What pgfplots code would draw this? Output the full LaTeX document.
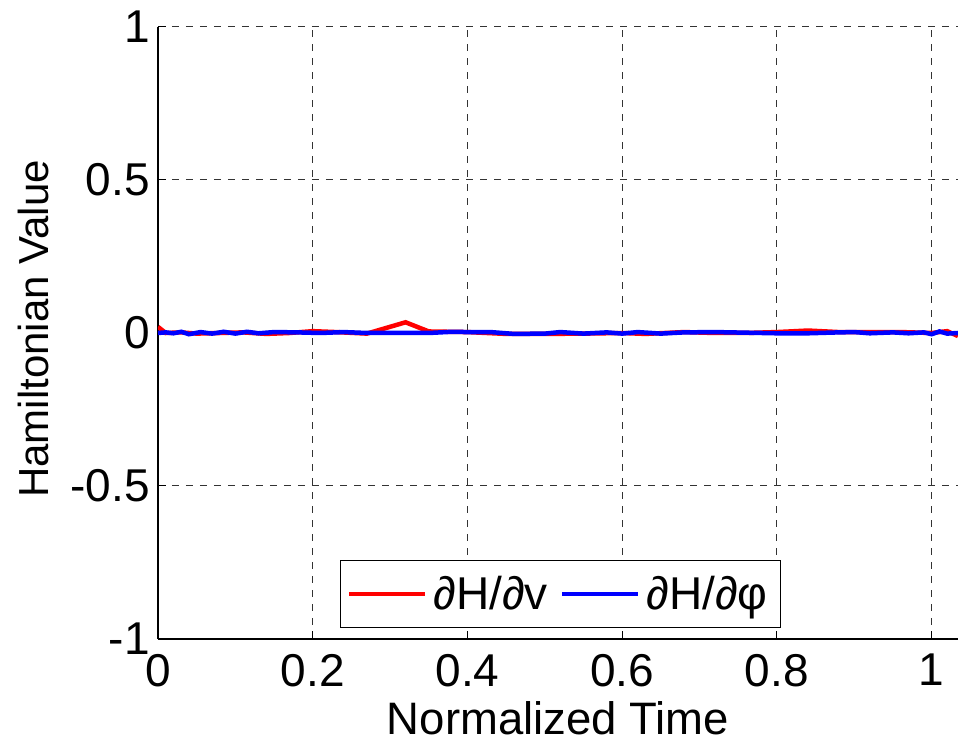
\documentclass[border=0pt]{standalone}
\usepackage{fontspec}
\setmainfont{Liberation Sans}
\usepackage{pgfplots}
\pgfplotsset{compat=1.18}
\newcommand{\bigf}{\fontsize{46}{50}\selectfont}
\begin{document}
\begin{tikzpicture}
\begin{axis}[
  scale only axis,
  width=800pt, height=612pt,
  xmin=0, xmax=1.034, ymin=-1, ymax=1,
  axis x line*=bottom, axis y line*=left,
  axis line style={line width=1.3pt, black},
  xtick={0,0.2,0.4,0.6,0.8,1}, xticklabels={0,0.2,0.4,0.6,0.8,1},
  ytick={-1,-0.5,0,0.5,1}, yticklabels={-1,-0.5,0,0.5,1},
  tick align=inside, major tick length=8pt,
  tick style={line width=1pt, black},
  grid=major,
  major grid style={line width=1pt, black!80, dash pattern=on 7pt off 7pt},
  ticklabel style={font=\bigf},
  xticklabel style={inner ysep=15pt},
  yticklabel style={inner xsep=8pt},
  every axis x label/.style={at={(axis description cs:0.5,0)}, anchor=center, yshift=-79pt, font=\fontsize{45.5}{50}\selectfont},
  every axis y label/.style={at={(axis description cs:-0.15625,0.5065)}, rotate=90, anchor=center, font=\fontsize{42}{46}\selectfont},
  xlabel={Normalized Time},
  ylabel={Hamiltonian Value},
  legend columns=2,
  legend style={at={(axis description cs:0.503,0.0735)}, anchor=center, font=\bigf, draw=black, line width=1pt, fill=white,
    inner xsep=7pt, inner ysep=14pt,
    nodes={inner xsep=6pt},
    /tikz/every even column/.append style={column sep=6pt}},
  legend image code/.code={\draw[#1] (0pt,0pt) -- (76pt,0pt);},
]
\addplot[red, line width=4.5pt] coordinates {
(0,0.02) (0.01,0.0) (0.03,0.002) (0.05,-0.002) (0.08,0.0) (0.11,0.002) (0.14,-0.003) (0.17,0.0) (0.20,0.006) (0.23,0.003) (0.27,-0.002) (0.32,0.035) (0.35,0.005) (0.40,0.003) (0.45,-0.003) (0.50,-0.003) (0.55,-0.002) (0.60,0.0) (0.63,-0.003) (0.68,0.003) (0.72,0.0) (0.76,0.0) (0.80,0.003) (0.84,0.008) (0.88,0.003) (0.92,0.003) (0.96,0.003) (1.00,0.0) (1.02,0.006) (1.034,-0.01)
};
\addlegendentry{∂H/∂v}
\addplot[blue, line width=4.5pt] coordinates {
(0,0.0) (0.01,0.002) (0.02,-0.001) (0.03,0.004) (0.04,-0.004) (0.055,0.003) (0.07,-0.002) (0.085,0.004) (0.10,-0.002) (0.115,0.004) (0.13,-0.001) (0.15,0.003) (0.18,0.002) (0.21,0.0) (0.24,0.003) (0.27,0.0) (0.30,0.0) (0.35,0.0) (0.38,0.004) (0.40,0.003) (0.43,0.003) (0.46,-0.003) (0.50,-0.002) (0.52,0.003) (0.55,-0.002) (0.58,0.002) (0.60,-0.002) (0.62,0.003) (0.65,-0.002) (0.68,0.002) (0.72,0.003) (0.76,0.001) (0.80,-0.001) (0.84,-0.001) (0.88,0.002) (0.90,0.003) (0.92,-0.001) (0.95,0.002) (0.97,-0.001) (0.99,0.002) (1.00,-0.004) (1.01,0.005) (1.02,-0.002) (1.034,0.0)
};
\addlegendentry{∂H/∂φ}
\coordinate (SW) at (rel axis cs:0,0);
\coordinate (NE) at (rel axis cs:1,1);
\end{axis}
\pgfresetboundingbox
\path[use as bounding box] ([shift={(-158pt,-104pt)}]SW) rectangle ([shift={(0pt,27pt)}]NE);
\end{tikzpicture}
\end{document}
